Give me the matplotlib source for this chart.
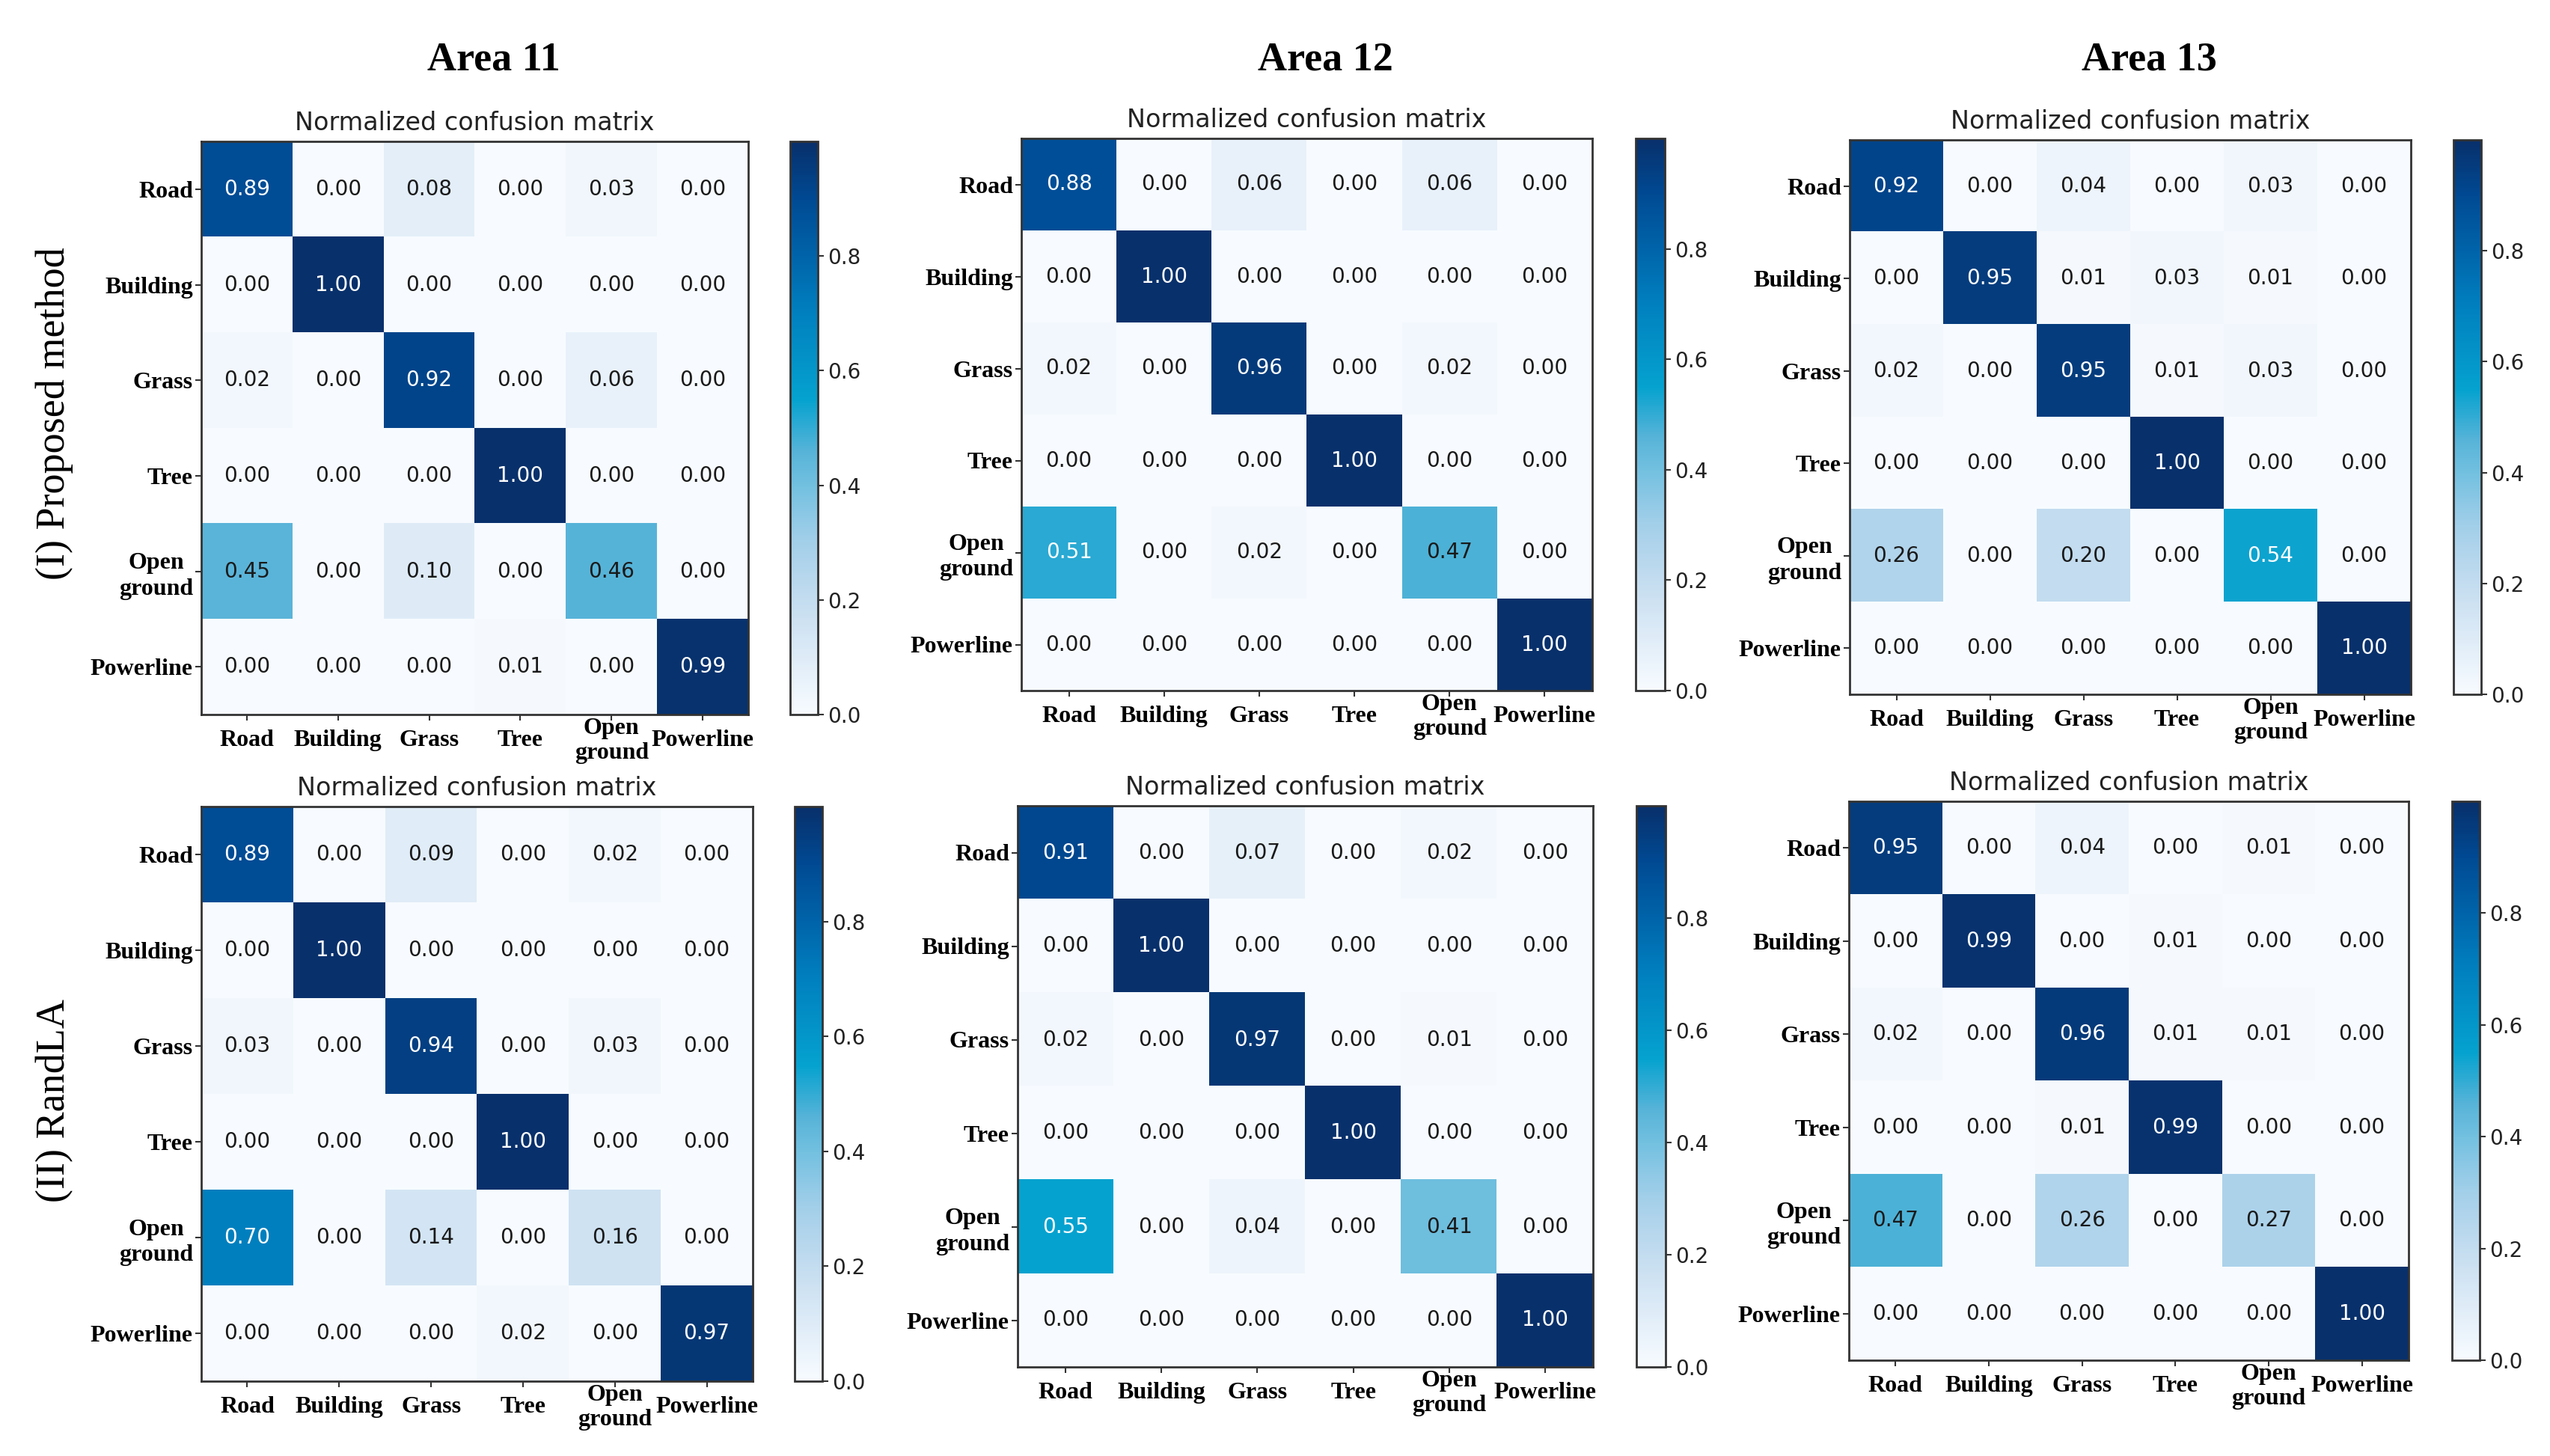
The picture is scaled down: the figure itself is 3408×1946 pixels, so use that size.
import numpy as np
import matplotlib
matplotlib.use("Agg")
from matplotlib import pyplot as plt
from matplotlib.colors import LinearSegmentedColormap

classes = ["Road", "Building", "Grass", "Tree", "Open\nground", "Powerline"]
areas = ["Area 11", "Area 12", "Area 13"]
methods = ["(I) Proposed method", "(II) RandLA"]

area11_proposed = [[0.89, 0.00, 0.08, 0.00, 0.03, 0.00],
                   [0.00, 1.00, 0.00, 0.00, 0.00, 0.00],
                   [0.02, 0.00, 0.92, 0.00, 0.06, 0.00],
                   [0.00, 0.00, 0.00, 1.00, 0.00, 0.00],
                   [0.45, 0.00, 0.10, 0.00, 0.46, 0.00],
                   [0.00, 0.00, 0.00, 0.01, 0.00, 0.99]]
area12_proposed = [[0.88, 0.00, 0.06, 0.00, 0.06, 0.00],
                   [0.00, 1.00, 0.00, 0.00, 0.00, 0.00],
                   [0.02, 0.00, 0.96, 0.00, 0.02, 0.00],
                   [0.00, 0.00, 0.00, 1.00, 0.00, 0.00],
                   [0.51, 0.00, 0.02, 0.00, 0.47, 0.00],
                   [0.00, 0.00, 0.00, 0.00, 0.00, 1.00]]
area13_proposed = [[0.92, 0.00, 0.04, 0.00, 0.03, 0.00],
                   [0.00, 0.95, 0.01, 0.03, 0.01, 0.00],
                   [0.02, 0.00, 0.95, 0.01, 0.03, 0.00],
                   [0.00, 0.00, 0.00, 1.00, 0.00, 0.00],
                   [0.26, 0.00, 0.20, 0.00, 0.54, 0.00],
                   [0.00, 0.00, 0.00, 0.00, 0.00, 1.00]]
area11_randla = [[0.89, 0.00, 0.09, 0.00, 0.02, 0.00],
                 [0.00, 1.00, 0.00, 0.00, 0.00, 0.00],
                 [0.03, 0.00, 0.94, 0.00, 0.03, 0.00],
                 [0.00, 0.00, 0.00, 1.00, 0.00, 0.00],
                 [0.70, 0.00, 0.14, 0.00, 0.16, 0.00],
                 [0.00, 0.00, 0.00, 0.02, 0.00, 0.97]]
area12_randla = [[0.91, 0.00, 0.07, 0.00, 0.02, 0.00],
                 [0.00, 1.00, 0.00, 0.00, 0.00, 0.00],
                 [0.02, 0.00, 0.97, 0.00, 0.01, 0.00],
                 [0.00, 0.00, 0.00, 1.00, 0.00, 0.00],
                 [0.55, 0.00, 0.04, 0.00, 0.41, 0.00],
                 [0.00, 0.00, 0.00, 0.00, 0.00, 1.00]]
area13_randla = [[0.95, 0.00, 0.04, 0.00, 0.01, 0.00],
                 [0.00, 0.99, 0.00, 0.01, 0.00, 0.00],
                 [0.02, 0.00, 0.96, 0.01, 0.01, 0.00],
                 [0.00, 0.00, 0.01, 0.99, 0.00, 0.00],
                 [0.47, 0.00, 0.26, 0.00, 0.27, 0.00],
                 [0.00, 0.00, 0.00, 0.00, 0.00, 1.00]]

matrices = [[area11_proposed, area12_proposed, area13_proposed],
            [area11_randla, area12_randla, area13_randla]]

# pixel boxes (x0, x1, y0, y1) of matrix and colorbar in a 3408x1946 canvas
W, H = 3408.0, 1946.0
mat_boxes = [[(269, 1000, 189, 955), (1365, 2128, 185, 923), (2472, 3222, 187, 928)],
             [(269, 1006, 1078, 1846), (1360, 2129, 1077, 1827), (2471, 3219, 1071, 1818)]]
cb_boxes = [[(1056, 1093, 189, 955), (2186, 2225, 185, 923), (3279, 3316, 187, 928)],
            [(1062, 1099, 1078, 1846), (2187, 2226, 1077, 1827), (3277, 3314, 1071, 1818)]]


def rect(box):
    x0, x1, y0, y1 = box
    return [x0 / W, 1 - y1 / H, (x1 - x0) / W, (y1 - y0) / H]


# Blues, a bit more saturated in the middle like the scanned figure
cmap = LinearSegmentedColormap.from_list("blues_sat", [
    (0.0, "#f7fbff"), (0.1, "#deebf7"), (0.2, "#c3dcef"), (0.3, "#a3cfe9"),
    (0.4, "#72c0e0"), (0.46, "#56b3d8"), (0.55, "#05a2cf"), (0.7, "#0080bf"),
    (0.8, "#0064aa"), (0.9, "#004a93"), (1.0, "#08306b")])

serif = "Liberation Serif"
frame = "#333333"

fig = plt.figure(figsize=(W / 100, H / 100), dpi=100)

for r in range(2):
    for c in range(3):
        cm = np.array(matrices[r][c])
        ax = fig.add_axes(rect(mat_boxes[r][c]))
        im = ax.imshow(cm, cmap=cmap, vmin=0, vmax=cm.max(), aspect="auto",
                       interpolation="nearest")
        ax.set_title("Normalized confusion matrix", fontsize=24, pad=11,
                     color="#222222")
        ax.set_xticks(range(len(classes)))
        ax.set_yticks(range(len(classes)))
        ax.set_xticklabels(classes, fontfamily=serif, fontweight="bold",
                           fontsize=23, va="center", linespacing=1.2,
                           multialignment="center")
        ax.set_yticklabels(classes, fontfamily=serif, fontweight="bold",
                           fontsize=23, linespacing=1.25,
                           multialignment="center")
        ax.tick_params(axis="x", length=6, width=1.5, pad=19, colors="#333333",
                       labelcolor="black")
        ax.tick_params(axis="y", length=6, width=1.5, pad=2, colors="#333333",
                       labelcolor="black")
        for s in ax.spines.values():
            s.set_linewidth(2)
            s.set_color(frame)
        thresh = cm.max() / 2.0
        for i in range(cm.shape[0]):
            for j in range(cm.shape[1]):
                ax.text(j, i, format(cm[i, j], ".2f"), ha="center", va="center",
                        fontsize=20,
                        color="white" if cm[i, j] > thresh else "#1a1a1a")

        cax = fig.add_axes(rect(cb_boxes[r][c]))
        cb = fig.colorbar(im, cax=cax, ticks=[0.0, 0.2, 0.4, 0.6, 0.8])
        cb.ax.tick_params(labelsize=20, length=6, width=1.5, colors="#333333",
                          labelcolor="#222222")
        cb.outline.set_linewidth(2)
        cb.outline.set_edgecolor(frame)

# column headers
for c, name in enumerate(areas):
    x0, x1 = mat_boxes[0][c][0], mat_boxes[0][c][1]
    fig.text(((x0 + x1) / 2 + 25) / W, 1 - 80 / H, name, ha="center", va="center",
             fontfamily=serif, fontweight="bold", fontsize=39)

# row headers
fig.text(73 / W, 1 - 553 / H, methods[0], rotation=90, ha="center", va="center",
         fontfamily=serif, fontsize=39)
fig.text(73 / W, 1 - 1471 / H, methods[1], rotation=90, ha="center", va="center",
         fontfamily=serif, fontsize=39)

fig.savefig("out.png", dpi=100, facecolor="white")
